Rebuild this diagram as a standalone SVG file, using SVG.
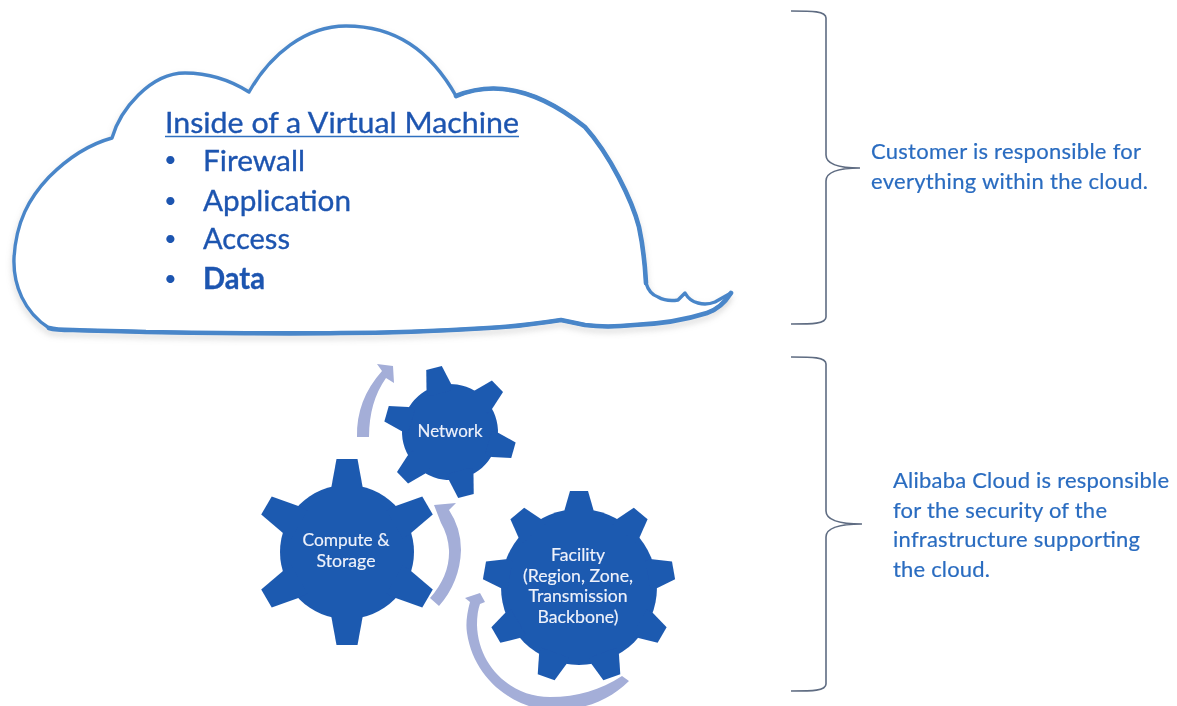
<svg xmlns="http://www.w3.org/2000/svg" width="1177" height="706" viewBox="0 0 1177 706">
<style>
text{font-family:Lato,"Open Sans","Liberation Sans",sans-serif}
.soft{filter:url(#soft)}
.c{fill:#1f55b0;stroke:#1f55b0;stroke-width:.35;font-size:29.5px}
.b{fill:#1f55b0;font-size:22px}
.r{fill:#2a6cc0;stroke:#2a6cc0;stroke-width:.2;font-size:22px}
.g{fill:#eef2fb;stroke:#eef2fb;stroke-width:.15;font-size:17px;text-anchor:middle}
.gear{fill:#1e5ab0}
.arr{fill:#a4aed8}
.brace{fill:none;stroke:#5f6c82;stroke-width:1.6}
</style>
<defs>
<filter id="soft" x="-5%" y="-5%" width="110%" height="110%"><feGaussianBlur stdDeviation="0.5"/></filter>
<filter id="shadow" x="-5%" y="-5%" width="110%" height="115%"><feGaussianBlur stdDeviation="3"/></filter>
<polygon id="t1" points="-16,-55 -16,-63 -10.500,-93 10.500,-93 16,-63 16,-55"/>
<polygon id="t2" points="-12.500,-40 -12.500,-47 -8,-66 8,-66 12.500,-47 12.500,-40"/>
<polygon id="t3" points="-14.500,-70 -14.500,-77 -9,-96 9,-96 14.500,-77 14.500,-70"/>
<path id="cl" d="M49,328 C24,312 13,285 14,258 C16,222 29,198 49,177 C68,158 90,144 112,138 C120,110 150,73 185,73 C210,73 230,80 249,92 C270,55 305,26 346,26 C395,26 430,50 456,96 C500,78 545,95 585,127 C610,155 632,200 639,227 C644,250 645,265 646,283 C648,290 652,295 658,297 C665,301 672,301 678,300 L685,293 C689,300 693,302 698,303 C705,305 710,304 715,302 L731,293 C724,304 716,310 707,313 C685,320 660,324 634,325 C615,327 600,327 585,325 L561,320 C535,324 510,327 488,328 C440,331 390,333 341,333 C280,334 210,333 146,332 C120,331 95,331 73,330 C62,330 55,330 49,328 Z"/>
</defs>

<g id="cloud">
<use href="#cl" fill="none" stroke="#9a9a9a" stroke-opacity="0.55" stroke-width="3" transform="translate(0,4)" filter="url(#shadow)"/>
<use href="#cl" fill="#ffffff" stroke="#4a86c9" stroke-width="3.400" stroke-linejoin="round" class="soft"/>
<path class="soft" fill="none" stroke="#4a86c9" stroke-width="4.600" stroke-linejoin="round" stroke-linecap="round" d="M456,96 C500,78 545,95 585,127 C610,155 632,200 639,227 C644,250 645,265 646,283 M731,293 C724,304 716,310 707,313 C685,320 660,324 634,325 C615,327 600,327 585,325 L561,320 C535,324 510,327 488,328 C440,331 390,333 341,333 C280,334 210,333 146,332 C120,331 95,331 73,330 C62,330 55,330 49,328"/>
<g class="soft">
<text class="c" x="165" y="133" textLength="354" lengthAdjust="spacingAndGlyphs">Inside of a Virtual Machine</text>
<line x1="165" y1="136.500" x2="519" y2="136.500" stroke="#2f6fc0" stroke-width="1.500"/>
<text class="b" x="164" y="167">•</text><text class="c" x="203" y="171" textLength="102" lengthAdjust="spacingAndGlyphs">Firewall</text>
<text class="b" x="164" y="208">•</text><text class="c" x="203" y="211" textLength="148" lengthAdjust="spacingAndGlyphs">Application</text>
<text class="b" x="164" y="246">•</text><text class="c" x="203" y="249" textLength="87" lengthAdjust="spacingAndGlyphs">Access</text>
<text class="b" x="164" y="286">•</text><text class="c" x="203" y="289" textLength="62" lengthAdjust="spacingAndGlyphs" style="font-weight:700">Data</text>
</g>
</g>

<g id="connectors" class="soft">
<path class="arr" d="M357,437 Q356,400 382,371 L377,364 L393,366 L394,383 L386,378 Q369,402 369,437 Z"/>
<path class="arr" d="M430,598 Q450,575 449,550 Q448,535 441,523 L434,505 L456,503 L449,510 Q461,528 461,550 Q460,582 439,606 Z"/>
<path class="arr" d="M622,676 C600,690 578,697 550,697 C510,697 478,665 477,625 Q477,612 480,604 L485,602 L480,593 L465,598 L470,602 Q465,620 467,633 C474,680 515,710 555,710 C585,710 610,700 629,681 Z"/>
</g>

<g id="network" class="soft">
<g class="gear" transform="translate(450,432) rotate(-14)">
<circle r="48"/>
<use href="#t2"/><use href="#t2" transform="rotate(60)"/><use href="#t2" transform="rotate(120)"/><use href="#t2" transform="rotate(180)"/><use href="#t2" transform="rotate(240)"/><use href="#t2" transform="rotate(300)"/>
</g>
<text class="g" x="450" y="437" textLength="65" lengthAdjust="spacingAndGlyphs">Network</text>
</g>

<g id="compute-storage" class="soft">
<g class="gear" transform="translate(347,552)">
<circle r="67"/>
<use href="#t1"/><use href="#t1" transform="rotate(60)"/><use href="#t1" transform="rotate(120)"/><use href="#t1" transform="rotate(180)"/><use href="#t1" transform="rotate(240)"/><use href="#t1" transform="rotate(300)"/>
</g>
<text class="g" x="346" y="546" textLength="87" lengthAdjust="spacingAndGlyphs">Compute &amp;</text>
<text class="g" x="346" y="567" textLength="59" lengthAdjust="spacingAndGlyphs">Storage</text>
</g>

<g id="facility" class="soft">
<g class="gear" transform="translate(579,587)">
<circle r="78"/>
<use href="#t3"/><use href="#t3" transform="rotate(40)"/><use href="#t3" transform="rotate(80)"/><use href="#t3" transform="rotate(120)"/><use href="#t3" transform="rotate(160)"/><use href="#t3" transform="rotate(200)"/><use href="#t3" transform="rotate(240)"/><use href="#t3" transform="rotate(280)"/><use href="#t3" transform="rotate(320)"/>
</g>
<text class="g" x="578" y="561" textLength="54" lengthAdjust="spacingAndGlyphs">Facility</text>
<text class="g" x="578" y="582" textLength="110" lengthAdjust="spacingAndGlyphs">(Region, Zone,</text>
<text class="g" x="578" y="602" textLength="99" lengthAdjust="spacingAndGlyphs">Transmission</text>
<text class="g" x="578" y="623" textLength="81" lengthAdjust="spacingAndGlyphs">Backbone)</text>
</g>

<g id="brace-customer" class="soft">
<path class="brace" d="M791,11 C812,11 826,11 826,18 L826,155 C826,165 840,168 860,168 C840,168 826,171 826,181 L826,317 C826,324 812,324 791,324"/>
<text class="r" x="871" y="159" textLength="270">Customer is responsible for</text>
<text class="r" x="871" y="189" textLength="277">everything within the cloud.</text>
</g>

<g id="brace-alibaba" class="soft">
<path class="brace" d="M791,357 C812,357 826,357 826,364 L826,511 C826,521 842,524 862,524 C842,524 826,527 826,537 L826,684 C826,691 812,691 791,691"/>
<text class="r" x="893" y="488" textLength="276">Alibaba Cloud is responsible</text>
<text class="r" x="893" y="518" textLength="214">for the security of the</text>
<text class="r" x="893" y="547" textLength="247">infrastructure supporting</text>
<text class="r" x="893" y="577" textLength="97">the cloud.</text>
</g>
</svg>
